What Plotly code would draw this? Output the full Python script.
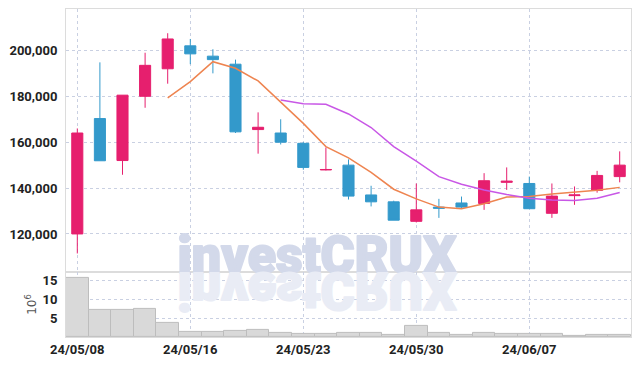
import plotly.graph_objects as go
from plotly.subplots import make_subplots

dates = ["24/05/08", "24/05/09", "24/05/10", "24/05/13", "24/05/14", "24/05/16",
         "24/05/17", "24/05/20", "24/05/21", "24/05/22", "24/05/23", "24/05/24",
         "24/05/27", "24/05/28", "24/05/29", "24/05/30", "24/05/31", "24/06/03",
         "24/06/04", "24/06/05", "24/06/07", "24/06/10", "24/06/11", "24/06/12",
         "24/06/13"]

open_ = [120000, 170300, 152000, 180000, 192000, 202000, 197500, 194000, 165500, 164000,
         159500, 147900, 150000, 137000, 134000, 125500, 131700, 133500, 133300, 142500,
         142000, 129000, 136700, 139000, 145000]
high = [166000, 194800, 180500, 199000, 207500, 205000, 200500, 196000, 173000, 170000,
        160000, 157700, 152500, 141000, 134500, 142000, 135300, 136300, 146500, 149000,
        145000, 142000, 140700, 147500, 156000]
low = [111500, 151900, 145800, 175000, 185500, 194000, 190000, 164000, 155000, 159000,
       148000, 147700, 135000, 132000, 126000, 125000, 127000, 131300, 130500, 139200,
       131000, 127000, 132700, 138000, 142500]
close = [164000, 151900, 180500, 193500, 205000, 198500, 196000, 164500, 166500, 160000,
         149000, 148100, 136500, 134000, 126000, 130500, 131200, 131700, 143200, 143000,
         131000, 136500, 137000, 145500, 150000]

volume_m = [15.8, 7.35, 7.35, 7.6, 3.9, 1.5, 1.5, 1.75, 2.0, 1.1, 0.85, 0.85, 1.2, 1.2,
            0.6, 2.9, 1.0, 0.5, 1.2, 0.95, 0.75, 0.75, 0.4, 0.67, 0.67]

ma5 = [None, None, None, None, 179300, 186400, 195100, 192200, 186700, 177400, 168200,
       158100, 153200, 146800, 139500, 135300, 131700, 131000, 133200, 136100, 136300,
       137400, 138200, 139000, 140300]
ma10 = [None, None, None, None, None, None, None, None, None, 178400, 176800, 176500,
        172300, 166400, 158100, 151700, 145000, 141700, 139200, 137200, 135600, 134800,
        134600, 135600, 138100]

price_ticks = [120000, 140000, 160000, 180000, 200000]
vol_ticks = [5, 10, 15]
x_ticks = ["24/05/08", "24/05/16", "24/05/23", "24/05/30", "24/06/07"]

RED = "#e61f6e"
BLUE = "#3399cb"
GRID = "#c9d0e2"
TICKFONT = dict(family="Roboto", size=13, color="#222222", weight="bold")

vol_frac = 0.1985
fig = make_subplots(rows=2, cols=1, shared_xaxes=True, vertical_spacing=0,
                    row_heights=[1 - vol_frac, vol_frac])

fig.add_trace(go.Candlestick(
    x=dates, open=open_, high=high, low=low, close=close,
    increasing=dict(line=dict(color=RED, width=1), fillcolor=RED),
    decreasing=dict(line=dict(color=BLUE, width=1), fillcolor=BLUE),
    whiskerwidth=0, showlegend=False), row=1, col=1)

fig.add_trace(go.Scatter(x=dates, y=ma5, mode="lines",
                         line=dict(color="#ee8450", width=1.5), showlegend=False),
              row=1, col=1)
fig.add_trace(go.Scatter(x=dates, y=ma10, mode="lines",
                         line=dict(color="#c857e6", width=1.5), showlegend=False),
              row=1, col=1)

fig.add_trace(go.Bar(x=dates, y=volume_m,
                     marker=dict(color="#d9d9d9", line=dict(color="#bdbdbd", width=1)),
                     showlegend=False), row=2, col=1)

axis_common = dict(showgrid=True, gridcolor=GRID, griddash="dot", gridwidth=1,
                   showline=True, linecolor="#dcdcdc", linewidth=1, mirror=True,
                   zeroline=False, ticks="", automargin=False)

fig.update_xaxes(type="category", tickmode="array", tickvals=x_ticks, ticktext=x_ticks,
                 rangeslider=dict(visible=False), **axis_common)
fig.update_xaxes(showticklabels=False, row=1, col=1)
fig.update_xaxes(tickfont=TICKFONT, ticklabelstandoff=0, row=2, col=1)

fig.update_yaxes(range=[103460, 218060], tickvals=price_ticks, tickformat=",",
                 tickfont=TICKFONT, ticklabelstandoff=5, row=1, col=1, **axis_common)
fig.update_yaxes(range=[0, 17.4], tickvals=vol_ticks, tickfont=TICKFONT,
                 ticklabelstandoff=5,
                 title=dict(text="10<sup>6</sup>", standoff=3,
                            font=dict(family="DejaVu Sans", size=12, color="#555555")),
                 row=2, col=1, **axis_common)

WM_MAIN = "#d3d9ea"
WM_REFL = "#e9ecf5"
wm_font = dict(family="Roboto", size=52, weight="bold")
wm_y = vol_frac - 0.048
fig.add_annotation(text="investCRUX", xref="paper", yref="paper", x=0.196, y=wm_y,
                   xanchor="left", yanchor="bottom", showarrow=False,
                   font=dict(color=WM_MAIN, **wm_font))
fig.add_annotation(text="investCRUX", xref="paper", yref="paper", x=0.196, y=wm_y,
                   xanchor="left", yanchor="bottom", showarrow=False,
                   font=dict(color=WM_REFL, **wm_font))

fig.update_layout(width=639, height=366, margin=dict(l=66, r=8, t=9, b=29),
                  paper_bgcolor="white", plot_bgcolor="white",
                  boxgap=0.3, bargap=0, hovermode=False)

post = """
document.body.style.margin = '0';
document.body.style.padding = '0';
var gd = document.getElementById('{plot_id}');
function styleWM(){
  var cols = ['%s', '%s'];
  for (var i = 0; i < 2; i++){
    var t = gd.querySelector('g.annotation[data-index="' + i + '"] text.annotation-text');
    if(!t) continue;
    t.style.fontWeight = '900';
    t.style.stroke = cols[i];
    t.style.strokeWidth = '2px';
    t.style.strokeLinejoin = 'round';
    if (i === 1){
      var m = parseFloat(t.getAttribute('y'));
      if(isNaN(m)){ var bb = t.getBBox(); m = bb.y + bb.height * 0.79; }
      t.setAttribute('transform', 'translate(0,' + (2*m) + ') scale(1,-1)');
    }
  }
}
styleWM();
gd.on('plotly_afterplot', styleWM);
""" % (WM_MAIN, WM_REFL)
fig.write_html("out.html", post_script=post, config={"displayModeBar": False})
